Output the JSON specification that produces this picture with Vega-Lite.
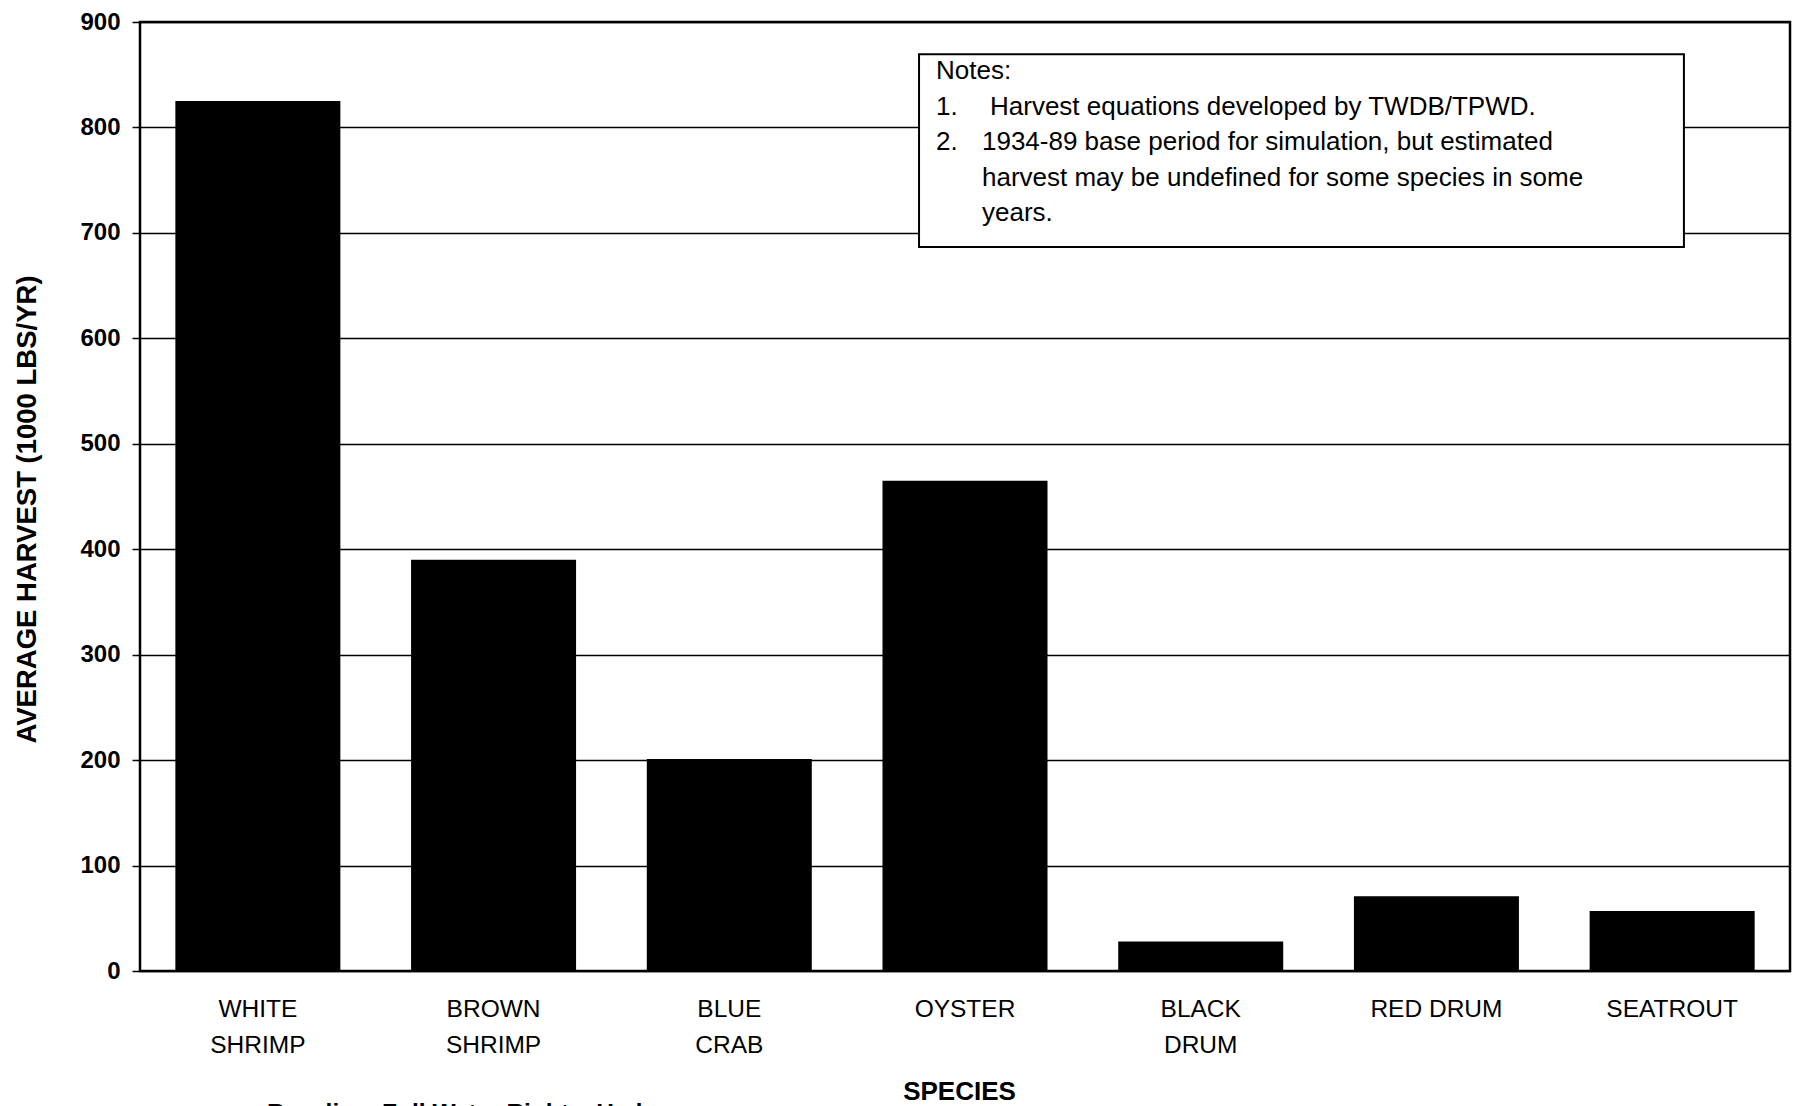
{
  "$schema": "https://vega.github.io/schema/vega-lite/v6.json",
  "autosize": {"type": "none"},
  "width": 1650,
  "height": 949,
  "padding": {"left": 140, "top": 22, "right": 11, "bottom": 135},
  "background": "white",
  "title": {
    "text": "Baseline=Full Water Rights, Hydropower",
    "orient": "bottom",
    "anchor": "start",
    "frame": "group",
    "dx": 127,
    "offset": -3,
    "font": "Liberation Sans",
    "fontSize": 24.5,
    "fontWeight": "bold",
    "color": "black"
  },
  "config": {
    "view": {"stroke": "black", "strokeWidth": 2.5},
    "font": "Liberation Sans"
  },
  "datasets": {
    "harvest": [
      {"species": "WHITE SHRIMP", "harvest": 825},
      {"species": "BROWN SHRIMP", "harvest": 390},
      {"species": "BLUE CRAB", "harvest": 201},
      {"species": "OYSTER", "harvest": 465},
      {"species": "BLACK DRUM", "harvest": 28},
      {"species": "RED DRUM", "harvest": 71},
      {"species": "SEATROUT", "harvest": 57}
    ],
    "notebox": [
      {"x1": 3.305, "x2": 6.55, "y1": 869.5, "y2": 686.5}
    ],
    "notes": [
      {"text": "Notes:", "col": 3.377, "row": 853.5},
      {"text": "1.", "col": 3.377, "row": 819.8},
      {"text": "Harvest equations developed by TWDB/TPWD.", "col": 3.606, "row": 819.8},
      {"text": "2.", "col": 3.377, "row": 786.0},
      {"text": "1934-89 base period for simulation, but estimated", "col": 3.572, "row": 786.0},
      {"text": "harvest may be undefined for some species in some", "col": 3.572, "row": 752.3},
      {"text": "years.", "col": 3.572, "row": 718.5}
    ]
  },
  "layer": [
    {
      "data": {"name": "harvest"},
      "mark": {"type": "bar", "color": "black"},
      "encoding": {
        "x": {
          "field": "species",
          "type": "nominal",
          "sort": null,
          "scale": {"paddingInner": 0.3, "paddingOuter": 0.15},
          "axis": {
            "title": "SPECIES",
            "titleFont": "Liberation Sans",
            "titleFontSize": 26,
            "titleFontWeight": "bold",
            "titleColor": "black",
            "titlePadding": 22,
            "titleX": 819,
            "labelAngle": 0,
            "labelExpr": "datum.label == 'RED DRUM' ? datum.label : split(datum.label, ' ')",
            "labelFont": "Liberation Sans",
            "labelFontSize": 24.5,
            "labelFontWeight": "normal",
            "labelColor": "black",
            "labelLineHeight": 36,
            "labelPadding": 26,
            "ticks": false,
            "domain": false,
            "grid": false
          }
        },
        "y": {
          "field": "harvest",
          "type": "quantitative",
          "scale": {"domain": [0, 900], "nice": false},
          "axis": {
            "title": "AVERAGE HARVEST (1000 LBS/YR)",
            "titleFont": "Liberation Sans",
            "titleFontSize": 27.5,
            "titleFontWeight": "bold",
            "titleColor": "black",
            "titlePadding": 38,
            "titleY": 487,
            "values": [0, 100, 200, 300, 400, 500, 600, 700, 800, 900],
            "labelFont": "Liberation Sans",
            "labelFontSize": 24,
            "labelFontWeight": "bold",
            "labelColor": "black",
            "labelPadding": 12,
            "tickSize": 8,
            "tickColor": "black",
            "tickWidth": 1.5,
            "domain": false,
            "grid": true,
            "gridColor": "black",
            "gridWidth": 1.5,
            "gridOpacity": 1
          }
        }
      }
    },
    {
      "data": {"name": "notebox"},
      "mark": {"type": "rect", "fill": "white", "stroke": "black", "strokeWidth": 2},
      "encoding": {
        "x": {"field": "x1", "type": "quantitative", "scale": {"domain": [0, 7], "nice": false, "zero": false}, "axis": null},
        "x2": {"field": "x2"},
        "y": {"field": "y1", "type": "quantitative"},
        "y2": {"field": "y2"}
      }
    },
    {
      "data": {"name": "notes"},
      "mark": {"type": "text", "align": "left", "baseline": "middle", "font": "Liberation Sans", "fontSize": 26, "color": "black"},
      "encoding": {
        "x": {"field": "col", "type": "quantitative", "scale": {"domain": [0, 7], "nice": false, "zero": false}, "axis": null},
        "y": {"field": "row", "type": "quantitative"},
        "text": {"field": "text"}
      }
    }
  ],
  "resolve": {"scale": {"x": "independent"}}
}
